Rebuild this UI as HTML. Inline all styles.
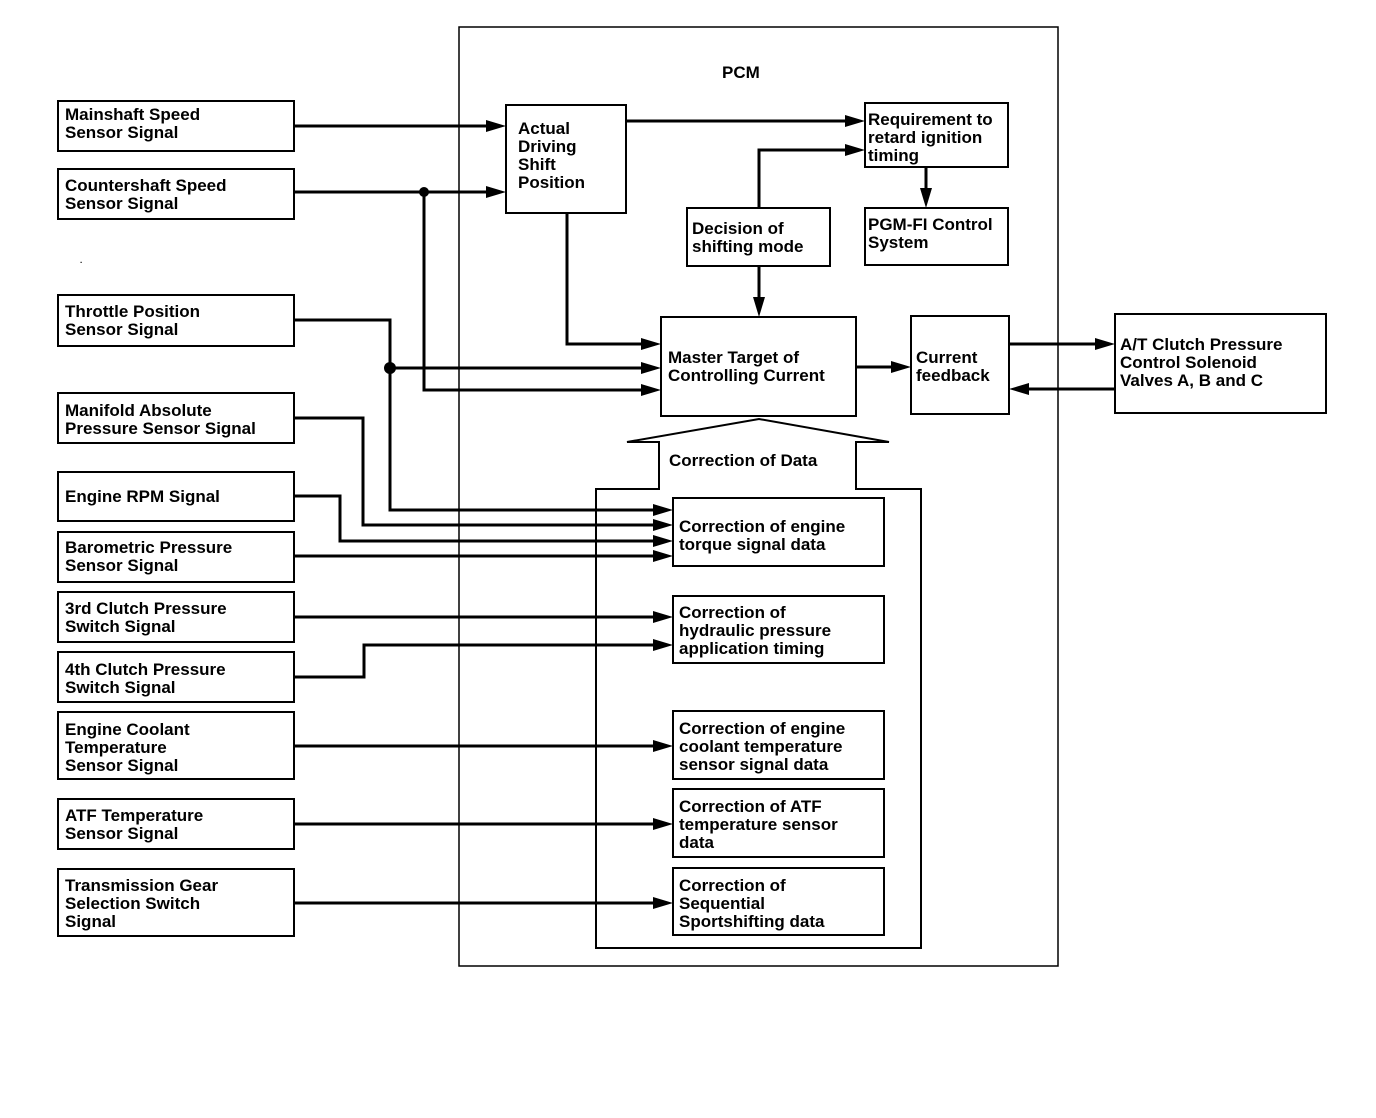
<!DOCTYPE html>
<html><head><meta charset="utf-8"><style>
html,body{margin:0;padding:0;background:#fff;}
svg{display:block;}
text{font-family:"Liberation Sans",sans-serif;font-weight:bold;font-size:17px;fill:#000;}
</style></head><body>
<svg width="1376" height="1118" viewBox="0 0 1376 1118" xmlns="http://www.w3.org/2000/svg">
<defs>
<marker id="a" markerWidth="8" markerHeight="8" refX="7" refY="4" orient="auto" markerUnits="userSpaceOnUse" viewBox="0 0 8 8">
</marker>
</defs>
<rect width="1376" height="1118" fill="#fff"/>
<!-- PCM -->
<rect x="459" y="27" width="599" height="939" fill="none" stroke="#000" stroke-width="1.5"/>
<text x="722" y="78">PCM</text>
<text x="80" y="263" style="font-size:8px">.</text>

<g fill="none" stroke="#000" stroke-width="2">
<!-- left boxes -->
<rect x="58" y="101" width="236" height="50"/>
<rect x="58" y="169" width="236" height="50"/>
<rect x="58" y="295" width="236" height="51"/>
<rect x="58" y="393" width="236" height="50"/>
<rect x="58" y="472" width="236" height="49"/>
<rect x="58" y="532" width="236" height="50"/>
<rect x="58" y="592" width="236" height="50"/>
<rect x="58" y="652" width="236" height="50"/>
<rect x="58" y="712" width="236" height="67"/>
<rect x="58" y="799" width="236" height="50"/>
<rect x="58" y="869" width="236" height="67"/>
<!-- inner -->
<rect x="506" y="105" width="120" height="108"/>
<rect x="865" y="103" width="143" height="64"/>
<rect x="865" y="208" width="143" height="57"/>
<rect x="687" y="208" width="143" height="58"/>
<rect x="661" y="317" width="195" height="99"/>
<rect x="911" y="316" width="98" height="98"/>
<rect x="1115" y="314" width="211" height="99"/>
<polygon points="596,948 596,489 659,489 659,442 627,442 759,419 889,442 856,442 856,489 921,489 921,948"/>
<rect x="673" y="498" width="211" height="68"/>
<rect x="673" y="596" width="211" height="67"/>
<rect x="673" y="711" width="211" height="68"/>
<rect x="673" y="789" width="211" height="68"/>
<rect x="673" y="868" width="211" height="67"/>
</g>

<g fill="none" stroke="#000" stroke-width="3">
<polyline points="294,126 494,126"/>
<polyline points="294,192 494,192"/>
<polyline points="424,192 424,390 649,390"/>
<polyline points="626,121 853,121"/>
<polyline points="567,213 567,344 649,344"/>
<polyline points="759,208 759,150 853,150"/>
<polyline points="759,266 759,305"/>
<polyline points="926,167 926,196"/>
<polyline points="294,320 390,320 390,510 661,510"/>
<polyline points="390,368 649,368"/>
<polyline points="294,418 363,418 363,525 661,525"/>
<polyline points="294,496 340,496 340,541 661,541"/>
<polyline points="294,556 661,556"/>
<polyline points="294,617 661,617"/>
<polyline points="294,677 364,677 364,645 661,645"/>
<polyline points="294,746 661,746"/>
<polyline points="294,824 661,824"/>
<polyline points="294,903 661,903"/>
<polyline points="856,367 899,367"/>
<polyline points="1009,344 1103,344"/>
<polyline points="1115,389 1021,389"/>
</g>
<g fill="#000">
<circle cx="424" cy="192" r="5"/>
<circle cx="390" cy="368" r="6"/>
<!-- right arrows -->
<polygon points="506,126 486,120 486,132"/>
<polygon points="506,192 486,186 486,198"/>
<polygon points="661,390 641,384 641,396"/>
<polygon points="865,121 845,115 845,127"/>
<polygon points="661,344 641,338 641,350"/>
<polygon points="865,150 845,144 845,156"/>
<polygon points="759,317 753,297 765,297"/>
<polygon points="926,208 920,188 932,188"/>
<polygon points="673,510 653,504 653,516"/>
<polygon points="661,368 641,362 641,374"/>
<polygon points="673,525 653,519 653,531"/>
<polygon points="673,541 653,535 653,547"/>
<polygon points="673,556 653,550 653,562"/>
<polygon points="673,617 653,611 653,623"/>
<polygon points="673,645 653,639 653,651"/>
<polygon points="673,746 653,740 653,752"/>
<polygon points="673,824 653,818 653,830"/>
<polygon points="673,903 653,897 653,909"/>
<polygon points="911,367 891,361 891,373"/>
<polygon points="1115,344 1095,338 1095,350"/>
<polygon points="1009,389 1029,383 1029,395"/>
</g>

<!-- left texts -->
<text x="65" y="120">Mainshaft Speed</text><text x="65" y="138">Sensor Signal</text>
<text x="65" y="191">Countershaft Speed</text><text x="65" y="209">Sensor Signal</text>
<text x="65" y="317">Throttle Position</text><text x="65" y="335">Sensor Signal</text>
<text x="65" y="416">Manifold Absolute</text><text x="65" y="434">Pressure Sensor Signal</text>
<text x="65" y="502">Engine RPM Signal</text>
<text x="65" y="553">Barometric Pressure</text><text x="65" y="571">Sensor Signal</text>
<text x="65" y="614">3rd Clutch Pressure</text><text x="65" y="632">Switch Signal</text>
<text x="65" y="675">4th Clutch Pressure</text><text x="65" y="693">Switch Signal</text>
<text x="65" y="735">Engine Coolant</text><text x="65" y="753">Temperature</text><text x="65" y="771">Sensor Signal</text>
<text x="65" y="821">ATF Temperature</text><text x="65" y="839">Sensor Signal</text>
<text x="65" y="891">Transmission Gear</text><text x="65" y="909">Selection Switch</text><text x="65" y="927">Signal</text>
<!-- inner texts -->
<text x="518" y="134">Actual</text><text x="518" y="152">Driving</text><text x="518" y="170">Shift</text><text x="518" y="188">Position</text>
<text x="868" y="125">Requirement to</text><text x="868" y="143">retard ignition</text><text x="868" y="161">timing</text>
<text x="868" y="230">PGM-FI Control</text><text x="868" y="248">System</text>
<text x="692" y="234">Decision of</text><text x="692" y="252">shifting mode</text>
<text x="668" y="363">Master Target of</text><text x="668" y="381">Controlling Current</text>
<text x="916" y="363">Current</text><text x="916" y="381">feedback</text>
<text x="1120" y="350">A/T Clutch Pressure</text><text x="1120" y="368">Control Solenoid</text><text x="1120" y="386">Valves A, B and C</text>
<text x="669" y="466">Correction of Data</text>
<text x="679" y="532">Correction of engine</text><text x="679" y="550">torque signal data</text>
<text x="679" y="618">Correction of</text><text x="679" y="636">hydraulic pressure</text><text x="679" y="654">application timing</text>
<text x="679" y="734">Correction of engine</text><text x="679" y="752">coolant temperature</text><text x="679" y="770">sensor signal data</text>
<text x="679" y="812">Correction of ATF</text><text x="679" y="830">temperature sensor</text><text x="679" y="848">data</text>
<text x="679" y="891">Correction of</text><text x="679" y="909">Sequential</text><text x="679" y="927">Sportshifting data</text>
</svg>
</body></html>
